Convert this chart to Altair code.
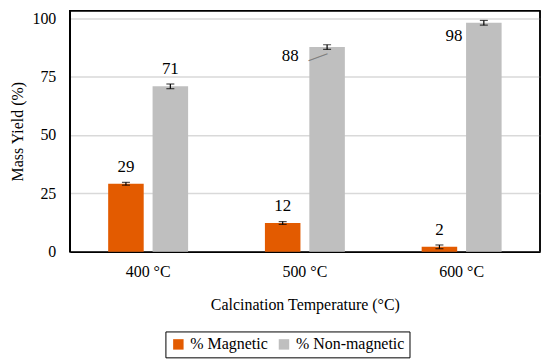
import altair as alt
import pandas as pd

categories = ["400 °C", "500 °C", "600 °C"]
series = ["% Magnetic", "% Non-magnetic"]
magnetic = [29.1, 12.3, 2.1]
non_magnetic = [70.8, 87.6, 98.0]
magnetic_err = [0.6, 0.6, 0.8]
non_magnetic_err = [1.0, 1.0, 1.0]
magnetic_labels = ["29", "12", "2"]
non_magnetic_labels = ["71", "88", "98"]
colors = ["#E35B00", "#BFBFBF"]
y_ticks = [0, 25, 50, 75, 100]
y_max = 103.2

rows = []
for i, c in enumerate(categories):
    rows.append(dict(category=c, series=series[0], value=magnetic[i], err=magnetic_err[i], label=magnetic_labels[i]))
    rows.append(dict(category=c, series=series[1], value=non_magnetic[i], err=non_magnetic_err[i], label=non_magnetic_labels[i]))
df = pd.DataFrame(rows)

FONT = "Liberation Serif"
W, H = 472, 242

x_scale = alt.Scale(paddingInner=0.49, paddingOuter=0.245)
xo_enc = alt.XOffset("series:N", sort=series, scale=alt.Scale(paddingInner=0.2, paddingOuter=0))
y_scale = alt.Scale(domain=[0, y_max], nice=False, zero=True)

x_axis_bottom = alt.Axis(title="Calcination Temperature (°C)", labelAngle=0, ticks=False,
                         labelPadding=12, titlePadding=17, domainColor="black", domainWidth=1.5,
                         labelFont=FONT, titleFont=FONT, labelFontSize=16, titleFontSize=16,
                         labelColor="black", titleColor="black", titleFontWeight="normal")
y_axis_left = alt.Axis(title="Mass Yield (%)", values=y_ticks, ticks=False, labelPadding=14,
                       titlePadding=6, gridColor="#D9D9D9", gridWidth=1.5,
                       domainColor="black", domainWidth=1.5,
                       labelFont=FONT, titleFont=FONT, labelFontSize=16, titleFontSize=16,
                       labelColor="black", titleColor="black", titleFontWeight="normal")

X = alt.X("category:N", sort=categories, scale=x_scale, axis=x_axis_bottom)


def ye(field):
    return alt.Y(field, scale=y_scale, axis=y_axis_left)


base = alt.Chart(df)

bars = base.mark_bar().encode(
    x=X, xOffset=xo_enc,
    y=ye("value:Q"),
    color=alt.Color("series:N", scale=alt.Scale(domain=series, range=colors),
                    legend=alt.Legend(title=None, orient="none", legendX=96, legendY=322,
                                      direction="horizontal", strokeColor="black", padding=5,
                                      symbolType="square", symbolSize=110, symbolStrokeWidth=0,
                                      labelFontSize=16, labelFont=FONT, columnPadding=8,
                                      labelColor="black")),
)

eb = base.transform_calculate(lo="datum.value - datum.err", hi="datum.value + datum.err")
err_rule = eb.mark_rule(color="black", strokeWidth=1.2).encode(
    x=X, xOffset=xo_enc, y=ye("lo:Q"), y2="hi:Q")
cap_lo = eb.mark_tick(color="black", thickness=1.2, size=8, orient="horizontal").encode(
    x=X, xOffset=xo_enc, y=ye("lo:Q"))
cap_hi = eb.mark_tick(color="black", thickness=1.2, size=8, orient="horizontal").encode(
    x=X, xOffset=xo_enc, y=ye("hi:Q"))

normal = base.transform_filter(
    "datum.series == '% Magnetic' || datum.category == '400 °C'"
).mark_text(font=FONT, fontSize=17, color="black", dy=-17, baseline="middle").encode(
    x=X, xOffset=xo_enc, y=ye("value:Q"), text="label:N")

lab88 = base.transform_filter(
    "datum.series == '% Non-magnetic' && datum.category == '500 °C'"
).mark_text(font=FONT, fontSize=17, color="black", dx=-37, dy=9, baseline="middle").encode(
    x=X, xOffset=xo_enc, y=ye("value:Q"), text="label:N")

leader = base.transform_filter(
    "datum.series == '% Non-magnetic' && datum.category == '500 °C'"
).mark_text(font=FONT, fontSize=20, color="#808080", dx=-12, dy=5, angle=340,
            baseline="middle", text="—").encode(x=X, xOffset=xo_enc, y=ye("value:Q"))

lab98 = base.transform_filter(
    "datum.series == '% Non-magnetic' && datum.category == '600 °C'"
).mark_text(font=FONT, fontSize=17, color="black", dx=-30, dy=13, baseline="middle").encode(
    x=X, xOffset=xo_enc, y=ye("value:Q"), text="label:N")

top_border = alt.Chart(pd.DataFrame({"f": [0]})).mark_rule(
    color="black", strokeWidth=1.5
).encode(y=alt.datum(y_max, scale=y_scale))

right_border = alt.Chart(pd.DataFrame({"f": [0]})).mark_rule(
    color="black", strokeWidth=1.5
).encode(x=alt.value(W), y=alt.value(0), y2=alt.value(H))

chart = alt.layer(bars, err_rule, cap_lo, cap_hi, normal, lab88, leader, lab98,
                  top_border, right_border).properties(
    width=W, height=H,
    padding={"left": 2, "top": 1, "right": 1, "bottom": 0},
).configure_view(stroke="black", strokeWidth=1.5)

chart.save("out.html", embed_options={"renderer": "svg", "actions": False})
